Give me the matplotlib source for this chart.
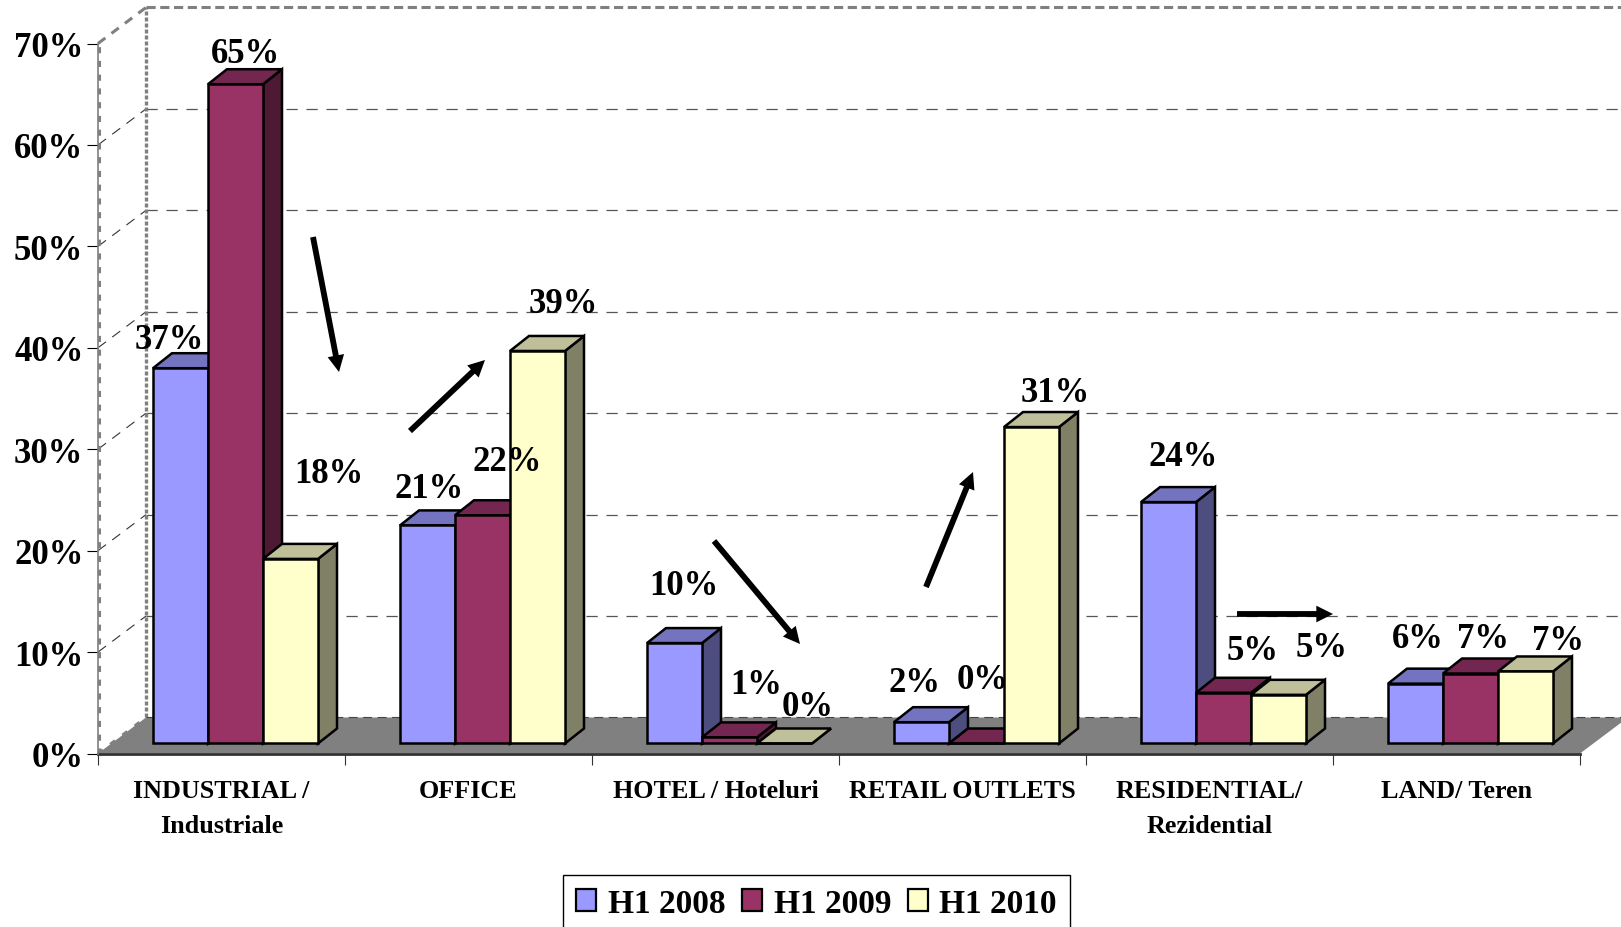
import matplotlib
matplotlib.use('Agg')
import matplotlib.pyplot as plt
from matplotlib.patches import Polygon, Patch

plt.rcParams['font.family'] = ['Liberation Serif', 'DejaVu Serif']
plt.rcParams['font.weight'] = 'bold'

# data
categories = ['INDUSTRIAL /\nIndustriale', 'OFFICE', 'HOTEL / Hoteluri',
              'RETAIL OUTLETS', 'RESIDENTIAL/\nRezidential', 'LAND/ Teren']
series_names = ['H1 2008', 'H1 2009', 'H1 2010']
h1_2008 = [37.0, 21.5, 9.9, 2.1, 23.8, 5.9]
h1_2009 = [65.0, 22.5, 0.6, 0.0, 5.0, 6.9]
h1_2010 = [18.2, 38.7, 0.0, 31.2, 4.8, 7.1]
labels_2008 = ['37%', '21%', '10%', '2%', '24%', '6%']
labels_2009 = ['65%', '22%', '1%', '0%', '5%', '7%']
labels_2010 = ['18%', '39%', '0%', '31%', '5%', '7%']
y_ticks = [0, 10, 20, 30, 40, 50, 60, 70]

# colours: front, top, side
front = ['#9999FF', '#993366', '#FFFFCC']
top = ['#7373BF', '#732650', '#BFBF99']
side = ['#4D4D80', '#4D1933', '#808066']

# where the labels sit relative to the bar top (pixels)
offs_2008 = [(-11, 29), (2, 37), (9, 58), (-7, 40), (15, 46), (2, 45)]
offs_2009 = [(10, 31), (25, 54), (27, 53), (6, 64), (29, 42), (13, 35)]
offs_2010 = [(38, 85), (26, 47), (23, 37), (24, 35), (43, 47), (33, 31)]

# trend arrows, in pixels of the picture (x0, y0, x1, y1)
arrows = [(313, 238, 339, 373), (410, 432, 485, 361), (714, 542, 800, 645),
          (926, 588, 973, 473), (1237, 615, 1333, 615)]

W, H = 1621, 928
fig = plt.figure(figsize=(W / 100, H / 100), dpi=100, facecolor='white')
ax = fig.add_axes([98 / W, (H - 754.5) / H, (1580 - 98) / W, (754.5 - 44.5) / H])
ax.set_xlim(0, 6)
ax.set_ylim(0, 70)
ax.patch.set_visible(False)

# 3d offsets in data units
wall_dx, wall_dy = 48 / 247, 36 / 10.14
bar_dx, bar_dy = 19 / 247, 15 / 10.14
bar_w = 55 / 247
bar_x0 = 55 / 247
bar_y0 = 10 / 10.14

GRID = '#555555'
WALL = '#808080'

# floor
ax.add_patch(Polygon([(0, 0), (6, 0), (6 + wall_dx, wall_dy), (wall_dx, wall_dy)],
                     fc='#808080', ec='none', clip_on=False, zorder=1))
ax.plot([wall_dx, 6 + wall_dx], [wall_dy, wall_dy], color='#444444', lw=0.8,
        ls=(0, (8, 5)), clip_on=False, zorder=1.5)

# grid on back wall and side wall
for t in y_ticks[1:-1]:
    ax.plot([wall_dx, 6 + wall_dx], [t + wall_dy, t + wall_dy], color=GRID, lw=0.9,
            ls=(0, (9, 7)), clip_on=False, zorder=0.5)
    ax.plot([0, wall_dx], [t, t + wall_dy], color='#333333', lw=0.8,
            ls=(0, (9, 7)), clip_on=False, zorder=0.5)

# wall edges
ax.plot([wall_dx, wall_dx], [wall_dy, 70 + wall_dy], color=WALL, lw=2.4,
        ls=(0, (1.2, 0.6)), clip_on=False, zorder=0.6)
ax.plot([wall_dx, 6 + wall_dx], [70 + wall_dy, 70 + wall_dy], color=WALL, lw=2.2,
        ls=(0, (3, 1.5)), clip_on=False, zorder=0.6)
ax.plot([0, wall_dx], [70, 70 + wall_dy], color=WALL, lw=2.2,
        ls=(0, (3, 2.5)), clip_on=False, zorder=0.6)
ax.plot([0, wall_dx], [0, wall_dy], color=WALL, lw=2.2,
        ls=(0, (2, 3)), clip_on=False, zorder=1.6)
ax.plot([0.004, 0.004], [0, 70], color=WALL, lw=2.2,
        ls=(0, (2, 2.5)), clip_on=False, zorder=0.6)

# bars, left to right so that later ones overlap earlier side faces
all_values = [h1_2008, h1_2009, h1_2010]
z = 3
for i in range(len(categories)):
    for j in range(3):
        v = all_values[j][i]
        x0 = i + bar_x0 + j * bar_w
        x1 = x0 + bar_w
        y0 = bar_y0
        y1 = y0 + v
        style = dict(ec='black', lw=1.8, joinstyle='miter', clip_on=False, zorder=z)
        ax.add_patch(Polygon([(x1, y0), (x1 + bar_dx, y0 + bar_dy),
                              (x1 + bar_dx, y1 + bar_dy), (x1, y1)], fc=side[j], **style))
        ax.add_patch(Polygon([(x0, y1), (x1, y1), (x1 + bar_dx, y1 + bar_dy),
                              (x0 + bar_dx, y1 + bar_dy)], fc=top[j], **style))
        ax.add_patch(Polygon([(x0, y0), (x1, y0), (x1, y1), (x0, y1)], fc=front[j], **style))
        z += 0.1

# data labels
all_labels = [labels_2008, labels_2009, labels_2010]
all_offs = [offs_2008, offs_2009, offs_2010]
for i in range(len(categories)):
    for j in range(3):
        ax.annotate(all_labels[j][i],
                    xy=(i + bar_x0 + (j + 0.5) * bar_w, bar_y0 + all_values[j][i]),
                    xytext=all_offs[j][i], textcoords='offset pixels',
                    ha='center', va='center', fontsize=25, color='black',
                    annotation_clip=False, zorder=20)

# axes
for s in ['top', 'right']:
    ax.spines[s].set_visible(False)
ax.spines['left'].set_color('#808080')
ax.spines['left'].set_linewidth(1.2)
ax.spines['bottom'].set_color('#333333')
ax.spines['bottom'].set_linewidth(2)
ax.spines['bottom'].set_zorder(2)

ax.set_yticks(y_ticks)
ax.set_yticklabels(['%d%%' % t for t in y_ticks], fontsize=25)
ax.tick_params(axis='y', length=8, width=0.8, pad=2.5, color='black')

ax.set_xticks(range(len(categories) + 1))
ax.set_xticklabels([])
ax.tick_params(axis='x', which='major', length=8, width=0.8, color='#333333')
ax.set_xticks([i + 0.5 for i in range(len(categories))], minor=True)
ax.set_xticklabels(categories, minor=True, fontsize=18.8, linespacing=1.68)
ax.tick_params(axis='x', which='minor', length=0, pad=18.5)

# arrows
for x0, y0, x1, y1 in arrows:
    fig_xy0 = (x0 / W, 1 - y0 / H)
    fig_xy1 = (x1 / W, 1 - y1 / H)
    ax.annotate('', xy=fig_xy1, xytext=fig_xy0, xycoords='figure fraction',
                textcoords='figure fraction', annotation_clip=False, zorder=21,
                arrowprops=dict(width=4.2, headwidth=12, headlength=12, fc='black',
                                ec='black', lw=0, shrink=0))

# legend
handles = [Patch(fc=front[k], ec='black', lw=1.6) for k in range(3)]
fig.legend(handles, series_names, loc='upper center', ncol=3,
           bbox_to_anchor=(816.5 / W, 1 - 876 / H), frameon=True, fancybox=False,
           edgecolor='black', facecolor='white', framealpha=1,
           fontsize=24, handlelength=0.6, handleheight=0.6, handletextpad=0.35,
           columnspacing=0.5, borderaxespad=0, borderpad=0.38)

fig.savefig('out.png', dpi=100)
